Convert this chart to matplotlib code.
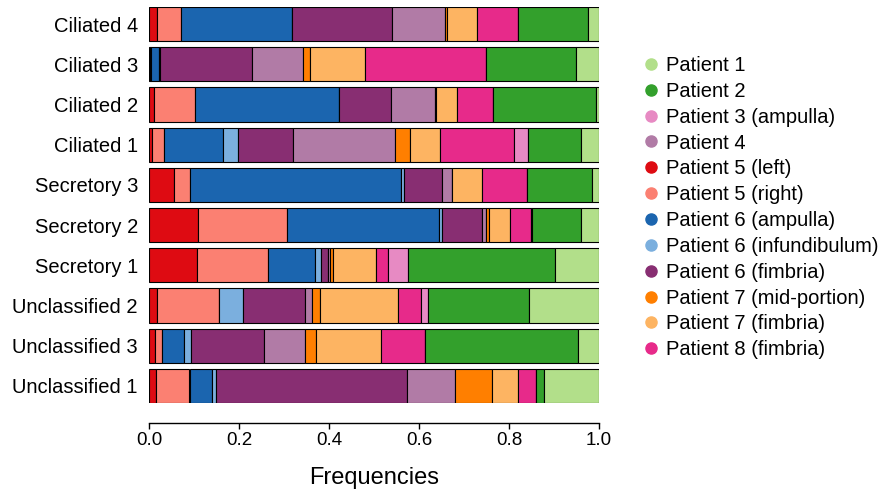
import numpy as np
import matplotlib
matplotlib.use('Agg')
import matplotlib.pyplot as plt
from matplotlib.lines import Line2D

plt.rcParams['font.family'] = ['Liberation Sans', 'DejaVu Sans']

# Clusters, bottom to top
clusters = ["Unclassified 1", "Unclassified 3", "Unclassified 2", "Secretory 1",
            "Secretory 2", "Secretory 3", "Ciliated 1", "Ciliated 2",
            "Ciliated 3", "Ciliated 4"]

# Stacking order (left to right in each bar)
samples = ["Patient 5 (left)", "Patient 5 (right)", "Patient 6 (ampulla)",
           "Patient 6 (infundibulum)", "Patient 6 (fimbria)", "Patient 4",
           "Patient 7 (mid-portion)", "Patient 7 (fimbria)", "Patient 8 (fimbria)",
           "Patient 3 (ampulla)", "Patient 2", "Patient 1"]

colors = {
    "Patient 1": "#B2DF8A",
    "Patient 2": "#33A02C",
    "Patient 3 (ampulla)": "#E78AC3",
    "Patient 4": "#B17BA6",
    "Patient 5 (left)": "#DE0B12",
    "Patient 5 (right)": "#FB8072",
    "Patient 6 (ampulla)": "#1B65AF",
    "Patient 6 (infundibulum)": "#7BAFDE",
    "Patient 6 (fimbria)": "#882E72",
    "Patient 7 (mid-portion)": "#FF7F00",
    "Patient 7 (fimbria)": "#FDB462",
    "Patient 8 (fimbria)": "#E72A8A",
}

# Frequencies per sample, one value per cluster (same order as clusters)
p5_left   = [0.016, 0.013, 0.018, 0.107, 0.109, 0.056, 0.007, 0.011, 0.002, 0.018]
p5_right  = [0.074, 0.016, 0.138, 0.158, 0.198, 0.035, 0.026, 0.091, 0.002, 0.053]
p6_amp    = [0.050, 0.048, 0.000, 0.105, 0.337, 0.469, 0.131, 0.321, 0.018, 0.246]
p6_inf    = [0.008, 0.016, 0.052, 0.013, 0.008, 0.005, 0.034, 0.000, 0.002, 0.000]
p6_fim    = [0.426, 0.162, 0.138, 0.016, 0.087, 0.085, 0.122, 0.115, 0.204, 0.222]
p4        = [0.106, 0.091, 0.016, 0.004, 0.010, 0.022, 0.227, 0.098, 0.114, 0.119]
p7_mid    = [0.082, 0.026, 0.018, 0.007, 0.006, 0.000, 0.033, 0.002, 0.015, 0.004]
p7_fim    = [0.057, 0.143, 0.173, 0.094, 0.048, 0.067, 0.068, 0.047, 0.123, 0.067]
p8_fim    = [0.041, 0.100, 0.051, 0.027, 0.045, 0.101, 0.165, 0.080, 0.269, 0.091]
p3_amp    = [0.000, 0.000, 0.017, 0.045, 0.004, 0.000, 0.031, 0.000, 0.000, 0.000]
p2        = [0.017, 0.340, 0.225, 0.328, 0.107, 0.143, 0.116, 0.229, 0.200, 0.155]
p1        = [0.123, 0.046, 0.155, 0.097, 0.041, 0.016, 0.041, 0.006, 0.051, 0.025]

values = np.array([p5_left, p5_right, p6_amp, p6_inf, p6_fim, p4, p7_mid,
                   p7_fim, p8_fim, p3_amp, p2, p1])
values = values / values.sum(axis=0)

legend_order = ["Patient 1", "Patient 2", "Patient 3 (ampulla)", "Patient 4",
                "Patient 5 (left)", "Patient 5 (right)", "Patient 6 (ampulla)",
                "Patient 6 (infundibulum)", "Patient 6 (fimbria)",
                "Patient 7 (mid-portion)", "Patient 7 (fimbria)", "Patient 8 (fimbria)"]

W, H = 885, 495
fig = plt.figure(figsize=(W / 100, H / 100), dpi=100)
ax = fig.add_axes([149 / W, (H - 403) / H, 450 / W, 396 / H])

y = np.arange(len(clusters))
left = np.zeros(len(clusters))
for name, vals in zip(samples, values):
    ax.barh(y, vals, left=left, height=0.85, color=colors[name],
            edgecolor='black', linewidth=0.8)
    left += vals

ax.set_xlim(0, 1)
ax.set_ylim(-0.425, len(clusters) - 0.575)
for s in ['top', 'right', 'left']:
    ax.spines[s].set_visible(False)
# moving the spine resets the ticks, so do it first
ax.spines['bottom'].set_position(('outward', 14.4))
ax.spines['bottom'].set_bounds(0, 1)
ax.spines['bottom'].set_linewidth(1)

ax.set_yticks(y)
ax.set_yticklabels(clusters)
ax.tick_params(axis='y', length=0, pad=8, labelsize=14.5)
ax.set_xticks([0, 0.2, 0.4, 0.6, 0.8, 1.0])
ax.set_xticklabels(["0.0", "0.2", "0.4", "0.6", "0.8", "1.0"])
ax.tick_params(axis='x', length=4.3, width=1, pad=2.5, labelsize=13.5)

fig.text(374 / W, (H - 478) / H, "Frequencies", fontsize=17, ha='center', va='center')

handles = [Line2D([], [], marker='o', linestyle='none', markersize=8,
                  markerfacecolor=colors[n], markeredgecolor=colors[n]) for n in legend_order]
fig.legend(handles, legend_order, loc='upper left',
           bbox_to_anchor=(643 / W, (H - 56) / H), frameon=False, fontsize=14.5,
           handlelength=0.8, handletextpad=0.345, labelspacing=0.34, borderpad=0,
           borderaxespad=0)

fig.savefig("out.png", dpi=100)
